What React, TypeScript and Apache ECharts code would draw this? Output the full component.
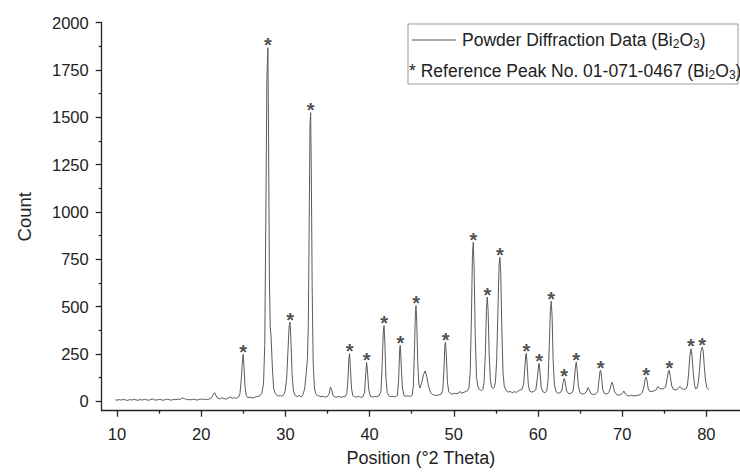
import React, { useEffect, useRef } from 'react';
import * as echarts from 'echarts';

// Measured profile: position (°2θ) and counts
const twoTheta = [
  9.8, 10.0, 10.25, 10.5, 10.75, 11.0, 11.25, 11.5, 11.75, 12.0, 12.25, 12.5, 12.75, 13.0, 13.25, 13.5, 13.75,
  14.0, 14.25, 14.5, 14.75, 15.0, 15.25, 15.5, 15.75, 16.0, 16.25, 16.5, 16.75, 17.0, 17.25, 17.5, 17.75,
  18.0, 18.25, 18.5, 18.75, 19.0, 19.25, 19.5, 19.75, 20.0, 20.25, 20.5, 20.75, 21.0, 21.25, 21.45, 21.6,
  21.75, 21.95, 22.2, 22.45, 22.7, 22.95, 23.2, 23.45, 23.7, 23.95, 24.2, 24.45, 24.6, 24.75, 24.88, 24.98,
  25.08, 25.2, 25.35, 25.55, 25.8, 26.05, 26.3, 26.55, 26.8, 27.0, 27.2, 27.4, 27.55, 27.7, 27.8, 27.92,
  28.0, 28.1, 28.2, 28.3, 28.45, 28.6, 28.8, 29.0, 29.2, 29.4, 29.6, 29.8, 29.95, 30.15, 30.3, 30.45, 30.55,
  30.65, 30.8, 30.95, 31.15, 31.4, 31.65, 31.9, 32.1, 32.3, 32.5, 32.62, 32.72, 32.82, 32.92, 33.0, 33.08,
  33.18, 33.3, 33.45, 33.6, 33.8, 34.0, 34.25, 34.5, 34.75, 35.0, 35.2, 35.35, 35.5, 35.65, 35.85, 36.1,
  36.35, 36.6, 36.85, 37.1, 37.3, 37.45, 37.55, 37.62, 37.72, 37.85, 38.0, 38.2, 38.45, 38.7, 38.95, 39.2,
  39.4, 39.55, 39.65, 39.75, 39.9, 40.1, 40.35, 40.6, 40.85, 41.1, 41.35, 41.5, 41.62, 41.72, 41.82, 41.95,
  42.1, 42.3, 42.55, 42.8, 43.05, 43.3, 43.45, 43.58, 43.65, 43.75, 43.9, 44.1, 44.35, 44.6, 44.85, 45.05,
  45.2, 45.35, 45.45, 45.52, 45.6, 45.72, 45.85, 46.0, 46.2, 46.4, 46.6, 46.8, 47.0, 47.25, 47.5, 47.75,
  48.0, 48.25, 48.5, 48.7, 48.85, 48.95, 49.02, 49.12, 49.25, 49.4, 49.6, 49.85, 50.1, 50.35, 50.6, 50.75,
  50.9, 51.1, 51.35, 51.6, 51.8, 51.95, 52.1, 52.22, 52.32, 52.42, 52.55, 52.7, 52.85, 53.0, 53.15, 53.3,
  53.45, 53.6, 53.75, 53.88, 53.98, 54.08, 54.2, 54.35, 54.5, 54.65, 54.8, 54.95, 55.1, 55.25, 55.38, 55.48,
  55.58, 55.7, 55.85, 56.0, 56.2, 56.45, 56.7, 56.95, 57.2, 57.45, 57.7, 57.9, 58.1, 58.3, 58.45, 58.55,
  58.62, 58.72, 58.85, 59.0, 59.25, 59.5, 59.75, 59.95, 60.08, 60.15, 60.25, 60.4, 60.6, 60.85, 61.05, 61.2,
  61.35, 61.48, 61.58, 61.68, 61.8, 61.95, 62.15, 62.4, 62.65, 62.85, 63.0, 63.12, 63.22, 63.4, 63.65, 63.9,
  64.15, 64.3, 64.45, 64.55, 64.65, 64.8, 65.0, 65.25, 65.5, 65.75, 65.95, 66.1, 66.3, 66.6, 66.85, 67.1,
  67.25, 67.38, 67.45, 67.55, 67.7, 67.9, 68.15, 68.4, 68.6, 68.78, 68.9, 69.1, 69.35, 69.6, 69.85, 70.05,
  70.2, 70.4, 70.65, 70.9, 71.15, 71.4, 71.65, 71.9, 72.15, 72.4, 72.6, 72.75, 72.85, 72.95, 73.1, 73.3,
  73.55, 73.8, 74.05, 74.25, 74.45, 74.7, 74.95, 75.15, 75.35, 75.5, 75.6, 75.72, 75.9, 76.1, 76.35, 76.6,
  76.85, 77.05, 77.3, 77.55, 77.75, 77.9, 78.05, 78.18, 78.3, 78.45, 78.6, 78.75, 78.9, 79.05, 79.2, 79.35,
  79.5, 79.62, 79.75, 79.9, 80.05, 80.2, 80.3,
];
const counts = [
  8, 5, 9, 6, 10, 7, 4, 9, 6, 11, 7, 5, 9, 6, 10, 8, 5,
  9, 12, 7, 6, 10, 8, 5, 9, 11, 7, 6, 10, 8, 12, 9, 18,
  14, 8, 10, 7, 11, 9, 6, 10, 12, 8, 11, 9, 13, 20, 38, 45,
  30, 16, 12, 18, 14, 11, 17, 22, 15, 19, 16, 22, 40, 110, 200, 248,
  185, 80, 30, 18, 22, 17, 20, 24, 26, 30, 42, 90, 300, 1100, 1700, 1868,
  1400, 650, 390, 340, 180, 70, 40, 32, 28, 30, 26, 34, 50, 120, 260, 400, 418,
  330, 140, 55, 30, 25, 30, 22, 35, 70, 160, 225, 400, 900, 1450, 1525, 1200,
  600, 200, 70, 40, 30, 28, 24, 26, 22, 25, 40, 75, 60, 30, 24, 22,
  26, 20, 24, 25, 40, 130, 230, 252, 180, 70, 30, 24, 22, 26, 20, 24,
  45, 150, 205, 160, 60, 26, 22, 25, 24, 28, 50, 200, 360, 400, 300, 120,
  45, 28, 24, 26, 23, 30, 110, 280, 295, 200, 70, 30, 26, 28, 25, 32,
  80, 300, 480, 505, 420, 200, 90, 70, 100, 140, 160, 130, 80, 45, 35, 32,
  30, 34, 38, 60, 180, 300, 312, 240, 100, 50, 40, 38, 42, 40, 44, 52,
  42, 45, 50, 55, 70, 150, 450, 780, 840, 700, 350, 130, 80, 65, 60, 55,
  62, 100, 250, 480, 550, 480, 250, 110, 75, 68, 72, 100, 220, 480, 720, 760,
  680, 400, 150, 80, 58, 48, 52, 45, 50, 47, 55, 60, 62, 90, 180, 245,
  252, 190, 90, 55, 48, 52, 60, 130, 195, 200, 150, 70, 50, 45, 55, 110,
  300, 480, 528, 450, 220, 90, 50, 42, 45, 60, 100, 120, 105, 55, 40, 42,
  50, 100, 180, 207, 170, 80, 45, 38, 40, 50, 72, 60, 40, 35, 38, 50,
  110, 160, 163, 130, 60, 40, 38, 45, 70, 100, 90, 50, 35, 32, 35, 42,
  54, 38, 30, 28, 32, 28, 30, 32, 35, 45, 80, 120, 128, 110, 65, 50,
  52, 55, 60, 78, 68, 65, 66, 75, 120, 160, 163, 130, 80, 62, 60, 65,
  78, 68, 62, 65, 80, 150, 240, 277, 240, 150, 85, 65, 70, 100, 170, 260,
  286, 270, 190, 110, 75, 65, 62,
];

// Reference peaks (01-071-0467) marked with asterisks
const peakPositions = [
  24.98, 27.92, 30.55, 33.0, 37.62, 39.65, 41.72, 43.65, 45.52, 49.02, 52.32, 53.98,
  55.48, 58.62, 60.15, 61.58, 63.12, 64.55, 67.45, 72.85, 75.6, 78.18, 79.5,
];
const peakCounts = [
  248, 1868, 418, 1525, 252, 205, 400, 295, 505, 312, 840, 550,
  760, 252, 200, 528, 120, 207, 163, 128, 163, 277, 286,
];

const xMajorTicks = [10, 20, 30, 40, 50, 60, 70, 80];
const xMinorTicks = [15, 25, 35, 45, 55, 65, 75];
const yMajorTicks = [0, 250, 500, 750, 1000, 1250, 1500, 1750, 2000];
const yMinorTicks = [125, 375, 625, 875, 1125, 1375, 1625, 1875];

export default function App() {
  const ref = useRef<HTMLDivElement>(null);

  useEffect(() => {
    if (!ref.current) return;
    const chart = echarts.init(ref.current, null, { renderer: 'svg' });
    const font = "'Liberation Sans', Arial, sans-serif";
    const axisColor = '#222';
    const xMin = 8.18;
    const xMax = 84;
    const yMin = -50;
    const yMax = 2000;

    const profile = twoTheta.map((x, i) => [x, counts[i]]);
    const peaks = peakPositions.map((x, i) => [x, peakCounts[i]]);
    const plain = (v: number) => String(v);

    chart.setOption({
      animation: false,
      backgroundColor: '#ffffff',
      textStyle: { fontFamily: font },
      grid: { left: 101.7, right: 0, top: 22.7, bottom: 62.3, containLabel: false },
      xAxis: [
        {
          type: 'value',
          min: xMin,
          max: xMax,
          position: 'bottom',
          name: 'Position (°2 Theta)',
          nameLocation: 'middle',
          nameGap: 38,
          nameTextStyle: { fontSize: 18, color: axisColor, fontFamily: font },
          axisLine: { show: true, onZero: false, lineStyle: { color: axisColor, width: 1.3 } },
          axisTick: { show: true, customValues: xMajorTicks, length: 6, lineStyle: { color: axisColor, width: 1.3 } },
          axisLabel: { customValues: xMajorTicks, formatter: plain, margin: 15, fontSize: 16.5, color: axisColor, fontFamily: font },
          splitLine: { show: false },
        },
        {
          type: 'value',
          min: xMin,
          max: xMax,
          position: 'bottom',
          axisLine: { show: false, onZero: false },
          axisTick: { show: true, customValues: xMinorTicks, length: 3, lineStyle: { color: axisColor, width: 1.3 } },
          axisLabel: { show: false },
          splitLine: { show: false },
        },
      ],
      yAxis: [
        {
          type: 'value',
          min: yMin,
          max: yMax,
          position: 'left',
          name: 'Count',
          nameLocation: 'middle',
          nameGap: 68,
          nameTextStyle: { fontSize: 18.5, color: axisColor, fontFamily: font },
          axisLine: { show: true, onZero: false, lineStyle: { color: axisColor, width: 1.3 } },
          axisTick: { show: true, customValues: yMajorTicks, length: 6, lineStyle: { color: axisColor, width: 1.3 } },
          axisLabel: { customValues: yMajorTicks, formatter: plain, margin: 13, fontSize: 16.5, color: axisColor, fontFamily: font },
          splitLine: { show: false },
        },
        {
          type: 'value',
          min: yMin,
          max: yMax,
          position: 'left',
          axisLine: { show: false, onZero: false },
          axisTick: { show: true, customValues: yMinorTicks, length: 3, lineStyle: { color: axisColor, width: 1.3 } },
          axisLabel: { show: false },
          splitLine: { show: false },
        },
      ],
      series: [
        {
          name: 'Powder Diffraction Data (Bi2O3)',
          type: 'line',
          xAxisIndex: 0,
          yAxisIndex: 0,
          data: profile,
          symbol: 'none',
          showSymbol: false,
          lineStyle: { color: '#5a5a5a', width: 1 },
          silent: true,
        },
        {
          name: 'Reference Peak No. 01-071-0467 (Bi2O3)',
          type: 'scatter',
          xAxisIndex: 0,
          yAxisIndex: 0,
          data: peaks,
          symbolSize: 1,
          itemStyle: { color: 'rgba(0,0,0,0)' },
          silent: true,
          label: {
            show: true,
            formatter: '*',
            position: 'top',
            distance: 0,
            offset: [0, 8],
            fontSize: 20,
            fontWeight: 'bold',
            color: '#222',
            fontFamily: font,
          },
        },
      ],
      graphic: [
        {
          type: 'rect',
          shape: { x: 408, y: 24, width: 330, height: 60 },
          style: { fill: '#fff', stroke: '#999', lineWidth: 1 },
          z: 10,
        },
        {
          type: 'line',
          shape: { x1: 412, y1: 40, x2: 456, y2: 40 },
          style: { stroke: '#555', lineWidth: 1 },
          z: 11,
        },
        {
          type: 'text',
          x: 462,
          y: 40,
          z: 11,
          style: {
            text: 'Powder Diffraction Data (Bi{sub|2}O{sub|3})',
            fill: '#222',
            font: `17.5px ${font}`,
            verticalAlign: 'middle',
            rich: {
              sub: { fontSize: 12, fontFamily: font, fill: '#222', padding: [8, 0, 0, 0] },
            },
          },
        },
        {
          type: 'text',
          x: 409,
          y: 71,
          z: 11,
          style: {
            text: '* Reference Peak No. 01-071-0467 (Bi{sub|2}O{sub|3})',
            fill: '#222',
            font: `17.5px ${font}`,
            verticalAlign: 'middle',
            rich: {
              sub: { fontSize: 12, fontFamily: font, fill: '#222', padding: [8, 0, 0, 0] },
            },
          },
        },
      ],
    });

    return () => {
      chart.dispose();
    };
  }, []);

  return (
    <div
      ref={ref}
      style={{ position: 'fixed', left: 0, top: 0, width: 740, height: 473, background: '#fff' }}
    />
  );
}
